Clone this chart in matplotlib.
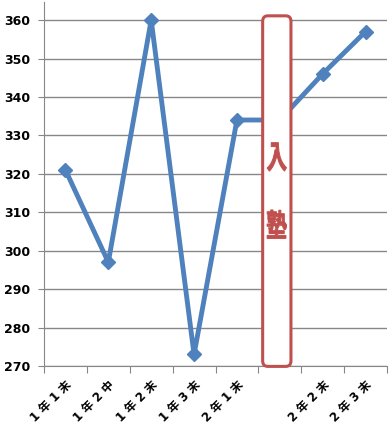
import matplotlib
matplotlib.use('Agg')
import matplotlib.pyplot as plt
from matplotlib.patches import FancyBboxPatch, PathPatch
from matplotlib.textpath import TextPath
from matplotlib.font_manager import FontProperties
from matplotlib.transforms import Affine2D, ScaledTranslation

plt.rcParams['font.family'] = ['DejaVu Sans', 'Noto Sans CJK JP']

# data
labels = ['1年1末', '1年2中', '1年2末', '1年3末', '2年1末', '', '2年2末', '2年3末']
scores = [321, 297, 360, 273, 334, 334, 346, 357]
yticks = [270, 280, 290, 300, 310, 320, 330, 340, 350, 360]

W, H = 391, 429
fig = plt.figure(figsize=(W / 100, H / 100), dpi=100)
ax = fig.add_axes([44 / W, 1 - 366 / H, (387 - 44) / W, 364 / H])

x = list(range(len(scores)))
ax.plot(x, scores, color='#4F81BD', lw=3.5, marker='D', ms=7,
        mec='#4F81BD', mfc='#4F81BD', zorder=3)

ax.set_xlim(-0.5, len(scores) - 0.5)
ax.set_ylim(270, 364.7)
ax.set_yticks(yticks)
ax.set_yticklabels([str(v) for v in yticks], fontsize=9, fontweight='bold')
ax.set_xticks([i + 0.5 for i in range(-1, len(scores))], minor=False)
ax.set_xticklabels([])
ax.set_xticks(x, minor=True)
ax.set_xticklabels([' '.join(s) for s in labels], minor=True, rotation=45,
                   ha='right', rotation_mode='anchor', fontsize=8.5,
                   fontweight='bold')
ax.tick_params(axis='x', which='minor', length=0, pad=9)
ax.tick_params(axis='x', which='major', length=5, color='#878787')
ax.tick_params(axis='y', length=4, color='#878787', pad=6)

ax.grid(axis='y', color='#878787', lw=1)
ax.set_axisbelow(True)
for s in ['top', 'right']:
    ax.spines[s].set_visible(False)
for s in ['left', 'bottom']:
    ax.spines[s].set_color('#878787')

# "入塾" box
box = FancyBboxPatch((4.6, 269.9), 0.66, 91.2,
                     boxstyle='round,pad=0,rounding_size=0.12',
                     mutation_aspect=12, fc='white', ec='#C0504D', lw=2.2,
                     zorder=4, clip_on=False)
ax.add_patch(box)

# tall narrow glyphs, ~20 px wide and ~29 px high
fp = FontProperties(family='Noto Sans CJK JP', weight='bold')
for txt, yv in [('入', 324.4), ('塾', 306.9)]:
    tp = TextPath((0, 0), txt, size=20, prop=fp)
    ext = tp.get_extents()
    sx = 19.5 / ext.width
    sy = 28.5 / ext.height
    tr = (Affine2D().translate(-(ext.x0 + ext.width / 2), -(ext.y0 + ext.height / 2))
          .scale(sx, sy)
          + ScaledTranslation(4.93, yv, ax.transData))
    ax.add_patch(PathPatch(tp, transform=tr, fc='#C0504D', ec='#C0504D',
                           lw=0.7, zorder=5))

fig.savefig('out.png', dpi=100)
